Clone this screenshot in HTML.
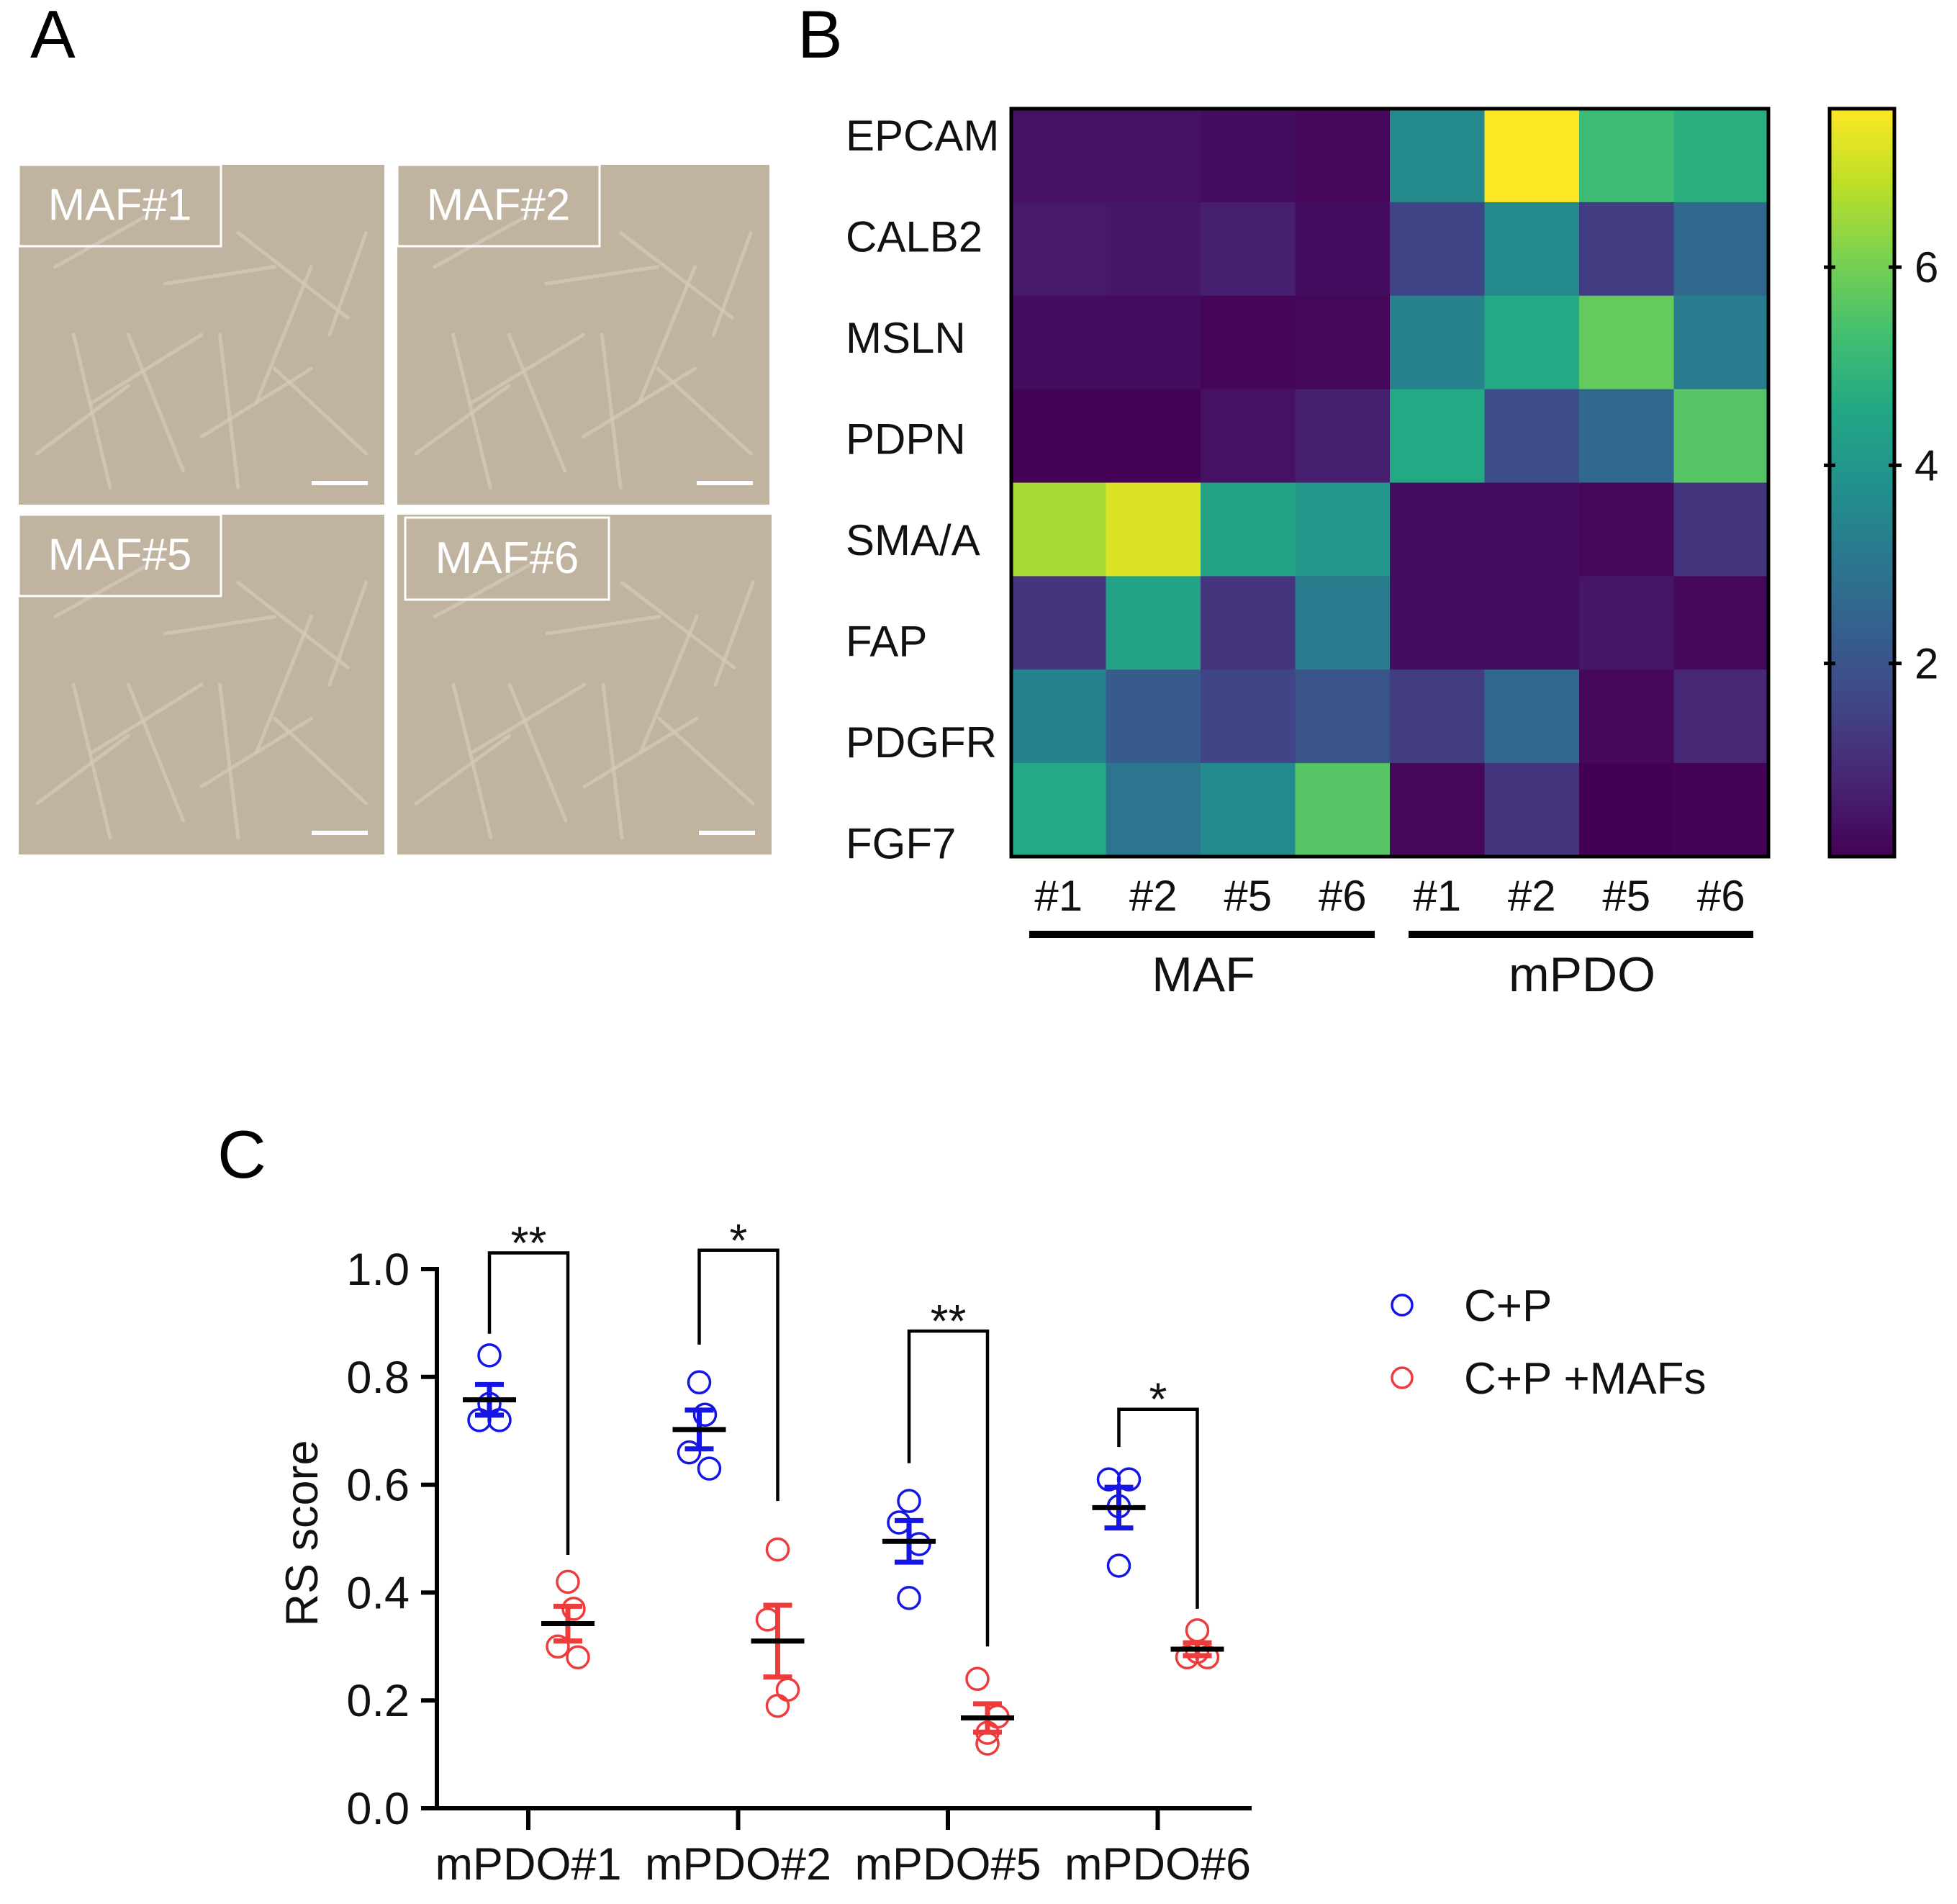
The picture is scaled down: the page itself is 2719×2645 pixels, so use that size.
<!DOCTYPE html>
<html><head><meta charset="utf-8">
<style>
html,body{margin:0;padding:0;background:#fff;}
svg{display:block;font-family:"Liberation Sans",Arial,sans-serif;}
</style></head>
<body>
<svg id="fig" width="2719" height="2645" viewBox="0 0 2719 2645" xmlns="http://www.w3.org/2000/svg">
<rect x="0" y="0" width="2719" height="2645" fill="#fff"/>
<text x="42" y="80" font-size="94">A</text>
<text x="1108" y="80" font-size="94">B</text>
<text x="302" y="1636" font-size="94">C</text>
<g id="panelA"></g>
<g id="panelB"></g>
<g id="panelC"></g>
</svg>
<script>
const NS="http://www.w3.org/2000/svg";
function mk(tag,attrs,parent,txt){const e=document.createElementNS(NS,tag);for(const k in attrs)e.setAttribute(k,attrs[k]);if(txt!==undefined)e.textContent=txt;parent.appendChild(e);return e;}

// ---------- Panel A ----------
const tileNames=["MAF#1","MAF#2","MAF#5","MAF#6"];
const A=document.getElementById('panelA');
const tiles=[[26,229,508,472],[552,229,517,472],[26,715,508,472],[552,715,520,472]];
const labelBoxes=[[26,229,281,113],[552,229,281,113],[26,715,281,113],[563,719,283,114]];
const streaks=[[0.1,0.3,0.35,0.15],[0.2,0.7,0.5,0.5],[0.6,0.2,0.9,0.45],[0.5,0.8,0.8,0.6],[0.3,0.5,0.45,0.9],[0.7,0.6,0.95,0.85],[0.05,0.85,0.3,0.65],[0.4,0.35,0.7,0.3],[0.8,0.3,0.65,0.7],[0.15,0.5,0.25,0.95],[0.55,0.5,0.6,0.95],[0.85,0.5,0.95,0.2]];
tiles.forEach((t,i)=>{
  const g=mk('g',{},A);
  
  
  mk('rect',{x:t[0],y:t[1],width:t[2],height:t[3],fill:'#c0b4a1'},g);
  streaks.forEach((s,j)=>{
    const k=(j+i*3)%streaks.length;const q=streaks[k];
    mk('line',{x1:t[0]+q[0]*t[2],y1:t[1]+q[1]*t[3],x2:t[0]+q[2]*t[2],y2:t[1]+q[3]*t[3],stroke:'#d3c9b8','stroke-width':5,'stroke-linecap':'round',opacity:0.8},g);
  });
  const b=labelBoxes[i];
  mk('rect',{x:b[0],y:b[1],width:b[2],height:b[3],fill:'none',stroke:'#fff','stroke-width':3},g);
  const lt=mk('text',{x:b[0]+b[2]/2,y:b[1]+b[3]/2+20,'font-size':62,fill:'#fff','text-anchor':'middle'},g,tileNames[i]);
  
  
  const sb=mk('rect',{x:t[0]+t[2]-101,y:t[1]+t[3]-33,width:78,height:6,fill:'#fff'},g);
  
  
});

// ---------- Panel B (heatmap) ----------
const genes=["EPCAM","CALB2","MSLN","PDPN","SMA/A","FAP","PDGFR","FGF7"];
const samples=["#1","#2","#5","#6","#1","#2","#5","#6"];
const heatValues=[
 [0.4,0.4,0.3,0.2,3.6,7.6,5.2,4.8],
 [0.6,0.5,0.7,0.3,1.6,3.6,1.4,2.6],
 [0.3,0.3,0.15,0.2,3.4,4.6,5.8,3.2],
 [0.1,0.1,0.4,0.7,4.6,1.8,2.6,5.6],
 [6.6,7.2,4.4,4.0,0.3,0.3,0.2,1.2],
 [1.2,4.4,1.2,3.2,0.3,0.3,0.5,0.2],
 [3.4,2.2,1.6,2.0,1.4,2.6,0.2,0.9],
 [4.6,3.0,3.6,5.6,0.2,1.2,0.05,0.1]];
const cbTicks=[2,4,6];
const vMin=0.05,vMax=7.6;
const vir=[[68,1,84],[72,36,117],[65,68,135],[53,95,141],[42,120,142],[33,145,140],[34,168,132],[68,191,112],[122,209,81],[189,223,38],[253,231,37]];
function viridis(t){t=Math.max(0,Math.min(1,t));const p=t*(vir.length-1);const i=Math.min(vir.length-2,Math.floor(p));const f=p-i;const c=vir[i].map((v,k)=>Math.round(v+(vir[i+1][k]-v)*f));return `rgb(${c[0]},${c[1]},${c[2]})`;}
const B=document.getElementById('panelB');
const hx0=1405,hx1=2457,hy0=151,hy1=1190;
const cw=(hx1-hx0)/samples.length,ch=(hy1-hy0)/genes.length;
heatValues.forEach((row,r)=>row.forEach((v,c)=>{
  const e=mk('rect',{x:hx0+c*cw,y:hy0+r*ch,width:cw+0.6,height:ch+0.6,fill:viridis((v-vMin)/(vMax-vMin))},B);
  
  
}));
mk('rect',{x:hx0,y:hy0,width:hx1-hx0,height:hy1-hy0,fill:'none',stroke:'#000','stroke-width':5},B);
genes.forEach((g,r)=>{
  const e=mk('text',{x:1175,y:188+r*140.5+21,'font-size':60,fill:'#111'},B,g);
  
  
});
samples.forEach((s,c)=>{
  const e=mk('text',{x:hx0+c*cw+cw/2,y:1265,'font-size':60,fill:'#111','text-anchor':'middle'},B,s);
  
  
});
const gb1=mk('rect',{x:1430,y:1293,width:480,height:10,fill:'#000'},B);


const gb2=mk('rect',{x:1957,y:1293,width:479,height:10,fill:'#000'},B);


const gt1=mk('text',{x:1672,y:1377,'font-size':68,fill:'#111','text-anchor':'middle'},B,'MAF');


const gt2=mk('text',{x:2198,y:1377,'font-size':68,fill:'#111','text-anchor':'middle'},B,'mPDO');


// colorbar
const cbx=2542,cbw=90;
const defs=mk('defs',{},B);
const lg=mk('linearGradient',{id:'cbg',x1:0,y1:1,x2:0,y2:0},defs);
for(let i=0;i<=20;i++){mk('stop',{offset:(i/20),'stop-color':viridis(i/20)},lg);}
const cb=mk('rect',{x:cbx,y:hy0,width:cbw,height:hy1-hy0,fill:'url(#cbg)',stroke:'#000','stroke-width':5},B);


function cbY(v){return hy1-(v-vMin)/(vMax-vMin)*(hy1-hy0);}
cbTicks.forEach(v=>{
  const y=cbY(v);
  mk('line',{x1:cbx-8,y1:y,x2:cbx+8,y2:y,stroke:'#000','stroke-width':5},B);
  mk('line',{x1:cbx+cbw-8,y1:y,x2:cbx+cbw+10,y2:y,stroke:'#000','stroke-width':5},B);
  const e=mk('text',{x:cbx+cbw+28,y:y+21,'font-size':60,fill:'#111'},B,String(v));
  
  
});

// ---------- Panel C ----------
const groups=["mPDO#1","mPDO#2","mPDO#5","mPDO#6"];
const cpValues=[[0.84,0.75,0.72,0.72],[0.79,0.73,0.66,0.63],[0.57,0.53,0.49,0.39],[0.61,0.61,0.56,0.45]];
const mafValues=[[0.42,0.37,0.30,0.28],[0.48,0.35,0.22,0.19],[0.24,0.17,0.14,0.12],[0.33,0.29,0.28,0.28]];
const yTicks=[0.0,0.2,0.4,0.6,0.8,1.0];
const sigLabels=["**","*","**","*"];
const sigTop=[1.03,1.035,0.885,0.74];
const sigLegCP=[0.88,0.86,0.64,0.67];
const sigLegMAF=[0.47,0.57,0.30,0.37];
const jitter=[[0,0,-14,14],[0,8,-14,14],[0,-14,14,0],[-14,14,0,0]];
const C=document.getElementById('panelC');
const ax0=607,ax1=1739,ay0=2512,ay1=1763;
function yS(v){return ay0-(v-0)/(1-0)*(ay0-ay1);}
function xS(i){return 734+i*291.5;}
const blue='#1515e6',red='#ee3b3b';
mk('line',{x1:ax0,y1:ay1-3,x2:ax0,y2:ay0+3,stroke:'#000','stroke-width':6},C);
mk('line',{x1:ax0-3,y1:ay0,x2:ax1,y2:ay0,stroke:'#000','stroke-width':6},C);
yTicks.forEach(v=>{
  mk('line',{x1:ax0-22,y1:yS(v),x2:ax0,y2:yS(v),stroke:'#000','stroke-width':6},C);
  const e=mk('text',{x:569,y:yS(v)+22,'font-size':63,'text-anchor':'end',fill:'#111'},C,v.toFixed(1));
  
  
});
const yt=mk('text',{x:0,y:0,'font-size':63,'text-anchor':'middle',fill:'#111',transform:'translate(441,2130) rotate(-90)'},C,'RS score');


function mean(a){return a.reduce((s,x)=>s+x,0)/a.length;}
function sem(a){const m=mean(a);return Math.sqrt(a.reduce((s,x)=>s+(x-m)*(x-m),0)/(a.length-1))/Math.sqrt(a.length);}
function drawSeries(vals,cx,col,name,j){
  vals.forEach((v,k)=>{
    const c=mk('circle',{cx:cx+j[k],cy:yS(v),r:15,fill:'none',stroke:col,'stroke-width':3.5},C);
    
    
  });
  const m=mean(vals),s=sem(vals);
  const eb=mk('path',{d:`M${cx},${yS(m+s)}V${yS(m-s)}M${cx-20},${yS(m+s)}H${cx+20}M${cx-20},${yS(m-s)}H${cx+20}`,stroke:col,'stroke-width':7,fill:'none'},C);
  
  
  const mb=mk('line',{x1:cx-37,y1:yS(m),x2:cx+37,y2:yS(m),stroke:'#000','stroke-width':7},C);
  
  
}
groups.forEach((g,i)=>{
  const gx=xS(i),bx=gx-54,rx=gx+55;
  mk('line',{x1:gx,y1:ay0,x2:gx,y2:ay0+30,stroke:'#000','stroke-width':6},C);
  const lab=mk('text',{x:gx,y:2611,'font-size':63,'text-anchor':'middle',fill:'#111'},C,g);
  
  
  drawSeries(cpValues[i],bx,blue,'cp',jitter[i]);
  drawSeries(mafValues[i],rx,red,'cp-mafs',jitter[(i+1)%4]);
  const br=mk('path',{d:`M${bx},${yS(sigLegCP[i])}V${yS(sigTop[i])}H${rx}V${yS(sigLegMAF[i])}`,stroke:'#000','stroke-width':4.5,fill:'none'},C);
  
  
  const st=mk('text',{x:(bx+rx)/2,y:yS(sigTop[i])+8,'font-size':64,'text-anchor':'middle',fill:'#111'},C,sigLabels[i]);
  
  
});
// legend
const leg=mk('g',{},C);


[['C+P',blue,1813],['C+P +MAFs',red,1914]].forEach(l=>{
  const c=mk('circle',{cx:1948,cy:l[2],r:14,fill:'none',stroke:l[1],'stroke-width':3.5},leg);
  
  
  const t=mk('text',{x:2034,y:l[2]+22,'font-size':62,fill:'#111'},leg,l[0]);
  
  
});
</script>
</body></html>
